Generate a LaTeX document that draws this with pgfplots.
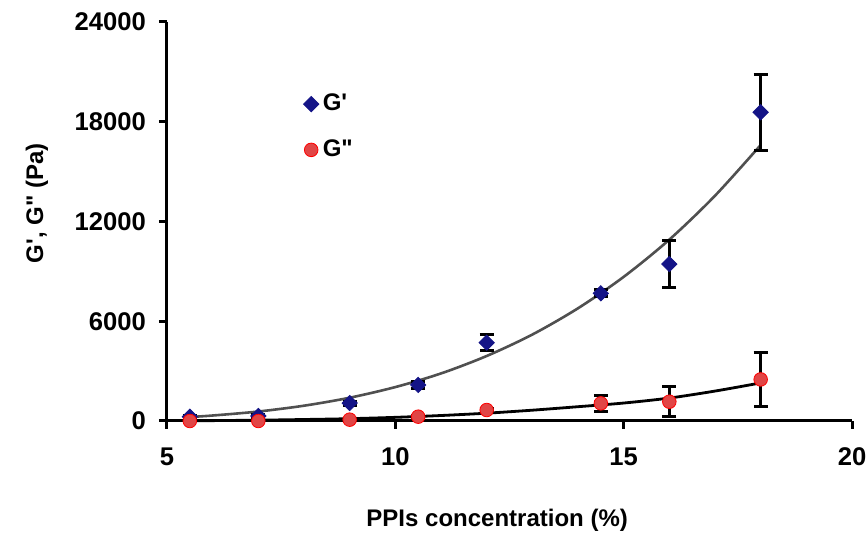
\documentclass[border=0pt]{standalone}
\usepackage{fontspec}
\setmainfont{Liberation Sans}[Ligatures=TeXOff]
\usepackage{pgfplots}
\pgfplotsset{compat=1.18}
\definecolor{gblue}{RGB}{20,20,135}
\definecolor{gred}{RGB}{225,70,70}
\definecolor{curvegray}{RGB}{80,80,80}
\newcommand{\lf}{\fontsize{12}{14}\selectfont\bfseries}
\newcommand{\tf}{\fontsize{12.8}{14}\selectfont\bfseries}
\begin{document}
\begin{tikzpicture}[font=\lf]
\useasboundingbox (-83.5pt,-56pt) rectangle (349.5pt,210.5pt);
\begin{axis}[
  scale only axis, width=342.5pt, height=199.5pt,
  at={(0,0)}, anchor=south west,
  xmin=5, xmax=20, ymin=0, ymax=24000,
  axis x line=bottom, axis y line=left,
  axis line style={line width=1.5pt, -},
  xtick={5,10,15,20}, ytick={0,6000,12000,18000,24000},
  tick style={line width=1.5pt, black},
  tick align=outside, major tick length=4pt,
  scaled y ticks=false,
  /pgf/number format/1000 sep={},
  /pgf/number format/assume math mode=true,
  ticklabel style={font=\tf},
  yticklabel style={xshift=-3pt},
  xticklabel style={yshift=-6pt},
  xlabel={PPIs concentration (\%)},
  ylabel={G', G" (Pa)},
  label style={font=\lf},
  xlabel style={at={(rel axis cs:0.482,-0.248)}, anchor=center},
  ylabel style={at={(rel axis cs:-0.19,0.546)}, anchor=center},
  legend style={draw=none, fill=none, at={(rel axis cs:0.19,0.84)}, anchor=north west,
    font=\lf, row sep=9pt, legend cell align=left},
  clip=false,
]
% fitted curves
\addplot[curvegray, line width=1.3pt, smooth, forget plot] coordinates {
 (5.5,240) (6,330) (7,570) (8,920) (9,1400) (10,2040) (11,2860) (12,3910)
 (13,5200) (14,6780) (15,8670) (16,10910) (17,13550) (18,16600)};
\addplot[black, line width=1.4pt, smooth, forget plot] coordinates {
 (5.5,10) (7,50) (8,90) (9,140) (10,220) (11,330) (12,470) (13,650)
 (14,860) (15,1080) (16,1380) (17,1800) (18,2290)};
% G'
\addplot[only marks, mark=square*, mark size=2.7pt, mark options={rotate=45, fill=gblue, draw=gblue},
  error bars/.cd, y dir=both, y explicit,
  error bar style={line width=1.5pt, black},
  error mark options={rotate=90, mark size=3.5pt, line width=1.5pt, black}]
 coordinates {
 (5.5,260) +- (0,60)
 (7,300) +- (0,80)
 (9,1080) +- (0,120)
 (10.5,2170) +- (0,200)
 (12,4710) +- (0,470)
 (14.5,7680) +- (0,220)
 (16,9440) +- (0,1400)
 (18,18570) +- (0,2300)
 };
\addlegendentry{G'}
% G''
\addplot[only marks, mark=*, mark size=3.4pt, mark options={fill=gred, draw=red},
  error bars/.cd, y dir=both, y explicit,
  error bar style={line width=1.5pt, black},
  error mark options={rotate=90, mark size=3.5pt, line width=1.5pt, black}]
 coordinates {
 (5.5,0) +- (0,0)
 (7,0) +- (0,0)
 (9,80) +- (0,0)
 (10.5,260) +- (0,60)
 (12,660) +- (0,100)
 (14.5,1060) +- (0,500)
 (16,1160) +- (0,900)
 (18,2500) +- (0,1650)
 };
\addlegendentry{G"}
\end{axis}
\end{tikzpicture}
\end{document}
